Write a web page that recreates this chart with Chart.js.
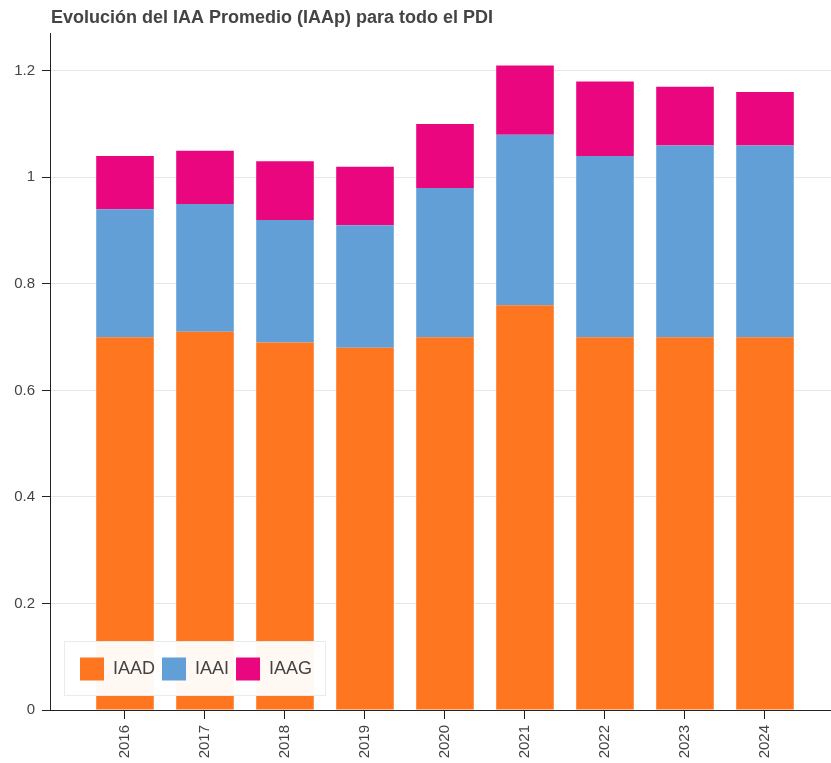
<!DOCTYPE html>
<html>
<head>
<meta charset="utf-8">
<script src="https://cdn.jsdelivr.net/npm/chart.js@4/dist/chart.umd.min.js"></script>
<style>
  html, body { margin: 0; padding: 0; background: #ffffff; }
  #wrap { width: 831px; height: 763px; position: relative; }
</style>
</head>
<body>
<div id="wrap"><canvas id="c"></canvas></div>
<script>
const chartTitle = 'Evolución del IAA Promedio (IAAp) para todo el PDI';
const years = ['2016', '2017', '2018', '2019', '2020', '2021', '2022', '2023', '2024'];
const iaad = [0.70, 0.71, 0.69, 0.68, 0.70, 0.76, 0.70, 0.70, 0.70];
const iaai = [0.24, 0.24, 0.23, 0.23, 0.28, 0.32, 0.34, 0.36, 0.36];
const iaag = [0.10, 0.10, 0.11, 0.11, 0.12, 0.13, 0.14, 0.11, 0.10];
const seriesNames = ['IAAD', 'IAAI', 'IAAG'];
const yTicks = [0, 0.2, 0.4, 0.6, 0.8, 1, 1.2];

const colors = ['#fe7620', '#629fd6', '#ea067f'];
const FONT = '"Liberation Sans", Arial, Helvetica, sans-serif';
Chart.defaults.font.family = FONT;
Chart.defaults.color = '#444';

function pts(vals) { return years.map((y, i) => ({ x: Number(y), y: vals[i] })); }

const titlePlugin = {
  id: 'leftTitle',
  afterDraw(chart) {
    const ctx = chart.ctx;
    ctx.save();
    ctx.font = 'bold 18px ' + FONT;
    ctx.fillStyle = '#444';
    ctx.textBaseline = 'alphabetic';
    ctx.textAlign = 'left';
    ctx.fillText(chartTitle, chart.chartArea.left + 1, 23);
    ctx.restore();
  }
};

const legendPlugin = {
  id: 'innerLegend',
  afterDraw(chart) {
    const ctx = chart.ctx;
    const ca = chart.chartArea;
    ctx.save();
    ctx.font = '18px ' + FONT;
    const sw = 24, sh = 23, padL = 16, padR = 14, gapSwatch = 9, gapItem = 7, boxH = 55;
    const items = chart.data.datasets.map(d => ({ label: d.label, color: d.backgroundColor, w: ctx.measureText(d.label).width }));
    let total = padL + padR;
    items.forEach((it, i) => { total += sw + gapSwatch + it.w + (i < items.length - 1 ? gapItem : 0); });
    const bx = ca.left + 14, by = ca.bottom - 14 - boxH;
    ctx.fillStyle = 'rgba(255,255,255,0.95)';
    ctx.fillRect(bx, by, total, boxH);
    ctx.strokeStyle = '#ebebeb';
    ctx.lineWidth = 1;
    ctx.strokeRect(bx + 0.5, by + 0.5, total - 1, boxH - 1);
    let x = bx + padL;
    const cy = by + boxH / 2;
    items.forEach((it) => {
      ctx.fillStyle = it.color;
      ctx.fillRect(x, cy - sh / 2 + 0.5, sw, sh);
      x += sw + gapSwatch;
      ctx.fillStyle = '#444';
      ctx.textBaseline = 'middle';
      ctx.textAlign = 'left';
      ctx.fillText(it.label, x, cy + 1);
      x += it.w + gapItem;
    });
    ctx.restore();
  }
};

new Chart(document.getElementById('c'), {
  type: 'bar',
  data: {
    datasets: [
      { label: seriesNames[0], data: pts(iaad), backgroundColor: colors[0], borderWidth: 0 },
      { label: seriesNames[1], data: pts(iaai), backgroundColor: colors[1], borderWidth: 0 },
      { label: seriesNames[2], data: pts(iaag), backgroundColor: colors[2], borderWidth: 0 }
    ]
  },
  options: {
    responsive: true,
    maintainAspectRatio: false,
    animation: false,
    layout: { padding: { top: 33, right: 0, left: 0, bottom: 0 } },
    plugins: {
      legend: { display: false },
      title: { display: false },
      tooltip: { enabled: false }
    },
    datasets: { bar: { barPercentage: 0.9, categoryPercentage: 0.8 } },
    scales: {
      x: {
        type: 'linear',
        stacked: true,
        offset: false,
        min: 2015.0625,
        max: 2024.825,
        afterBuildTicks(axis) { axis.ticks = years.map(y => ({ value: Number(y) })); },
        afterFit(axis) { axis.height = 53; },
        grid: { display: true, offset: false, drawOnChartArea: false, drawTicks: true, tickLength: 9, tickColor: '#222', tickWidth: 1 },
        border: { display: true, color: '#222', width: 1 },
        ticks: {
          callback: (v) => String(v),
          minRotation: 90, maxRotation: 90,
          padding: 6,
          autoSkip: false,
          color: '#444',
          font: { size: 15 }
        }
      },
      y: {
        stacked: true,
        min: 0,
        max: 1.271,
        afterBuildTicks(axis) { axis.ticks = yTicks.map(v => ({ value: v })); },
        afterFit(axis) { axis.width = 50; },
        grid: { color: '#e6e6e6', lineWidth: 1, drawTicks: true, tickLength: 8, tickColor: '#222', tickWidth: 1 },
        border: { display: true, color: '#222', width: 1 },
        ticks: {
          padding: 7,
          color: '#444',
          font: { size: 15 },
          callback: (v) => String(Math.round(v * 10) / 10)
        }
      }
    }
  },
  plugins: [titlePlugin, legendPlugin]
});
</script>
</body>
</html>
